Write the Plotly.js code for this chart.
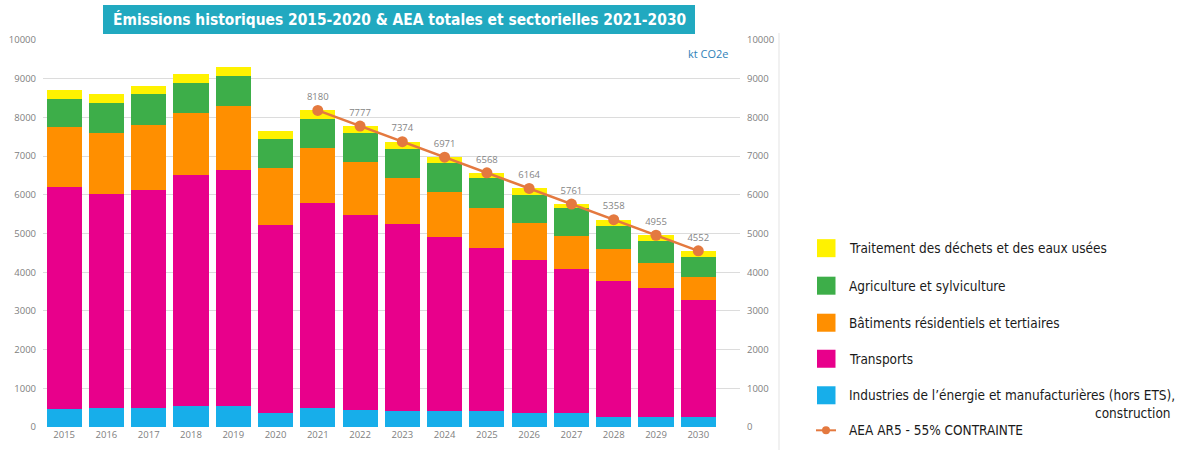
<!DOCTYPE html>
<html>
<head>
<meta charset="utf-8">
<script src="https://cdn.plot.ly/plotly-3.0.1.min.js"></script>
<style>html,body{margin:0;padding:0;background:#fff;}#chart{width:1185px;height:450px;}</style>
</head>
<body>
<div id="chart"></div>
<script>
// ---- data ----
const years = ["2015","2016","2017","2018","2019","2020","2021","2022","2023","2024","2025","2026","2027","2028","2029","2030"];
const industries = [475,490,483,535,535,362,483,449,415,415,415,362,362,268,268,268];
const transports = [5715,5520,5630,5982,6111,4854,5294,5018,4819,4482,4206,3949,3708,3508,3319,3016];
const batiments  = [1568,1585,1681,1603,1655,1482,1438,1378,1197,1164,1043,964,861,811,646,595];
const agriculture= [712,785,802,768,768,734,750,758,750,750,759,717,716,603,577,518];
const dechets    = [237,232,224,241,233,207,215,174,193,160,145,172,114,168,145,155];
const aeaYears   = ["2021","2022","2023","2024","2025","2026","2027","2028","2029","2030"];
const aeaValues  = [8180,7777,7374,6971,6568,6164,5761,5358,4955,4552];
const seriesNames = [
  "Industries de l’énergie et manufacturières (hors ETS), construction",
  "Transports",
  "Bâtiments résidentiels et tertiaires",
  "Agriculture et sylviculture",
  "Traitement des déchets et des eaux usées"
];
const industriesLegendLine1 = "Industries de l’énergie et manufacturières (hors ETS),";
const industriesLegendLine2 = "construction";
const lineName = "AEA AR5 - 55% CONTRAINTE";
const titleText = "Émissions historiques 2015-2020 & AEA totales et sectorielles 2021-2030";
const unitText = "kt CO2e";

// ---- styles ----
const colors = ["#17AEEA","#E8008B","#FF8F00","#3DAE49","#FFF200"];
const lineColor = "#E4793F";
const tickColor = "#808080";
const narrow = '"DejaVu Sans Condensed", Roboto, sans-serif';
const tickFontFamily = '"Open Sans", sans-serif';

const L=43, R=740, T=40, B=426.7, W=1185, H=450;
const px = p => (p-L)/(R-L);
const py = p => (B-p)/(B-T);

const stacks = [industries, transports, batiments, agriculture, dechets];
const traces = stacks.map((vals,i)=>({
  type:'bar', x:years, y:vals, name:seriesNames[i],
  marker:{color:colors[i], line:{width:0}}, showlegend:false,
  hoverinfo:'skip'
}));
traces.push({
  type:'scatter', mode:'lines+markers+text', x:aeaYears, y:aeaValues,
  name:lineName, yaxis:'y2', showlegend:false,
  line:{color:lineColor, width:2.5}, marker:{color:lineColor, size:11},
  text:aeaValues.map(String), textposition:'top center',
  textfont:{size:9.5, color:'#858585', family:tickFontFamily},
  cliponaxis:false, hoverinfo:'skip'
});

const shapes = [], annotations = [];
// title box
shapes.push({type:'rect', xref:'paper', yref:'paper', x0:px(103), x1:px(695), y0:py(34), y1:py(5), fillcolor:'#21A9C0', line:{width:0}, layer:'below'});
annotations.push({xref:'paper', yref:'paper', x:px(399), y:py(19.5), xanchor:'center', yanchor:'middle', showarrow:false,
  text:'<b>'+titleText+'</b>', font:{family:narrow, size:15.4, color:'#ffffff'}});
// unit
annotations.push({xref:'paper', yref:'paper', x:px(731), y:py(53), xanchor:'right', yanchor:'middle', showarrow:false,
  text:unitText, font:{family:tickFontFamily, size:11, color:'#2F7FB8'}});
// separator line
shapes.push({type:'line', xref:'paper', yref:'paper', x0:px(779), x1:px(779), y0:py(450), y1:py(33), line:{color:'#e3e3e3', width:1}});

// custom legend (top to bottom: dechets, agriculture, batiments, transports, industries, line)
const legendOrder = [4,3,2,1,0];
const legendY = [248,285.5,322.5,358.5,395];
const legendFont = {family:narrow, size:13.5, color:'#1a1a1a'};
legendOrder.forEach((si,k)=>{
  const cy = legendY[k];
  shapes.push({type:'rect', xref:'paper', yref:'paper', x0:px(817), x1:px(835.5), y0:py(cy+9), y1:py(cy-9), fillcolor:colors[si], line:{width:0}});
  const label = (si===0) ? industriesLegendLine1 : seriesNames[si];
  annotations.push({xref:'paper', yref:'paper', x:px(847), y:py(cy), xanchor:'left', yanchor:'middle', showarrow:false,
    text:label, font:legendFont});
});
annotations.push({xref:'paper', yref:'paper', x:px(1173), y:py(413), xanchor:'right', yanchor:'middle', showarrow:false,
  text:industriesLegendLine2, font:legendFont});
shapes.push({type:'line', xref:'paper', yref:'paper', x0:px(816), x1:px(836), y0:py(430), y1:py(430), line:{color:lineColor, width:2}});
shapes.push({type:'circle', xref:'paper', yref:'paper', x0:px(822), x1:px(830), y0:py(434), y1:py(426), fillcolor:lineColor, line:{width:0}});
annotations.push({xref:'paper', yref:'paper', x:px(847), y:py(430), xanchor:'left', yanchor:'middle', showarrow:false,
  text:lineName, font:legendFont});

const axisTickFont = {size:9.5, color:tickColor, family:tickFontFamily};
const layout = {
  width:W, height:H, paper_bgcolor:'#ffffff', plot_bgcolor:'#ffffff',
  margin:{l:L, r:W-R, t:T, b:H-B, pad:0},
  barmode:'stack', bargap:0.17, showlegend:false,
  xaxis:{type:'category', showgrid:false, zeroline:false, showline:false, ticks:'',
    tickfont:axisTickFont, fixedrange:true},
  yaxis:{range:[0,10000], dtick:1000, tickformat:'d', showgrid:true, gridcolor:'#dcdcdc', gridwidth:1, zeroline:false, showline:false, ticks:'',
    tickfont:axisTickFont, ticklabelstandoff:6, fixedrange:true},
  yaxis2:{range:[0,10000], dtick:1000, tickformat:'d', overlaying:'y', side:'right', showgrid:false, zeroline:false, showline:false, ticks:'',
    tickfont:axisTickFont, ticklabelstandoff:6, fixedrange:true},
  shapes:shapes, annotations:annotations
};
Plotly.newPlot('chart', traces, layout, {displayModeBar:false, staticPlot:true});
</script>
</body>
</html>
